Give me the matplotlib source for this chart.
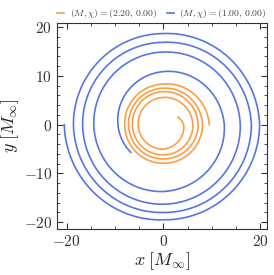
import numpy as np
import matplotlib
matplotlib.use("Agg")
import matplotlib.pyplot as plt
from matplotlib.path import Path
from matplotlib.projections.polar import PolarAxes
from matplotlib.ticker import MultipleLocator, FuncFormatter

plt.rcParams["mathtext.fontset"] = "cm"
plt.rcParams["font.family"] = "serif"
plt.rcParams["font.serif"] = ["DejaVu Serif"]

# orbit tracks: orbital phase (deg) and distance from origin
orange_label = r"$(M, \chi) = (2.20,\, 0.00)$"
orange_phase = [0, 90, 180, 270, 360, 450, 540, 630, 720, 810, 900, 990,
                1080, 1170, 1260, 1350, 1440, 1468]
orange_radius = [9.5, 8.35, 8.0, 7.9, 8.1, 7.5, 7.2, 7.0, 7.2, 6.8, 6.4, 6.2,
                 6.1, 5.6, 5.2, 5.0, 4.2, 3.4]

blue_label = r"$(M, \chi) = (1.00,\, 0.00)$"
blue_phase = [180, 270, 360, 450, 540, 630, 720, 810, 900, 990, 1080, 1170,
              1260, 1350, 1440, 1530, 1620, 1660]
blue_radius = [20.5, 19.5, 19.9, 18.7, 18.6, 18.0, 18.2, 16.9, 16.7, 16.3,
               15.9, 14.9, 14.4, 13.7, 12.6, 10.9, 9.4, 8.8]

orange = "#ff9d45"
blue = "#5576e3"


def fmt(v, pos):
    return r"$%d$" % v


fig = plt.figure(figsize=(2.74, 2.75), dpi=100)
ax = fig.add_axes([0.208, 0.167, 0.766, 0.750])

# let the polar transform turn (phase, radius) into the x-y track
polar = PolarAxes.PolarTransform(apply_theta_transforms=False)
for phase, radius, col, lab in [(orange_phase, orange_radius, orange, orange_label),
                                (blue_phase, blue_radius, blue, blue_label)]:
    p = Path(np.column_stack([np.deg2rad(phase), radius])).interpolated(40)
    ax.plot(p.vertices[:, 0], p.vertices[:, 1], color=col, lw=1.2,
            transform=polar + ax.transData, label=lab)

ax.set_xlim(-22.0, 21.4)
ax.set_ylim(-21.4, 20.9)

ax.xaxis.set_major_locator(MultipleLocator(20))
ax.xaxis.set_minor_locator(MultipleLocator(5))
ax.yaxis.set_major_locator(MultipleLocator(10))
ax.yaxis.set_minor_locator(MultipleLocator(2))
ax.xaxis.set_major_formatter(FuncFormatter(fmt))
ax.yaxis.set_major_formatter(FuncFormatter(fmt))
ax.tick_params(which="both", direction="in", top=True, right=True,
               labelsize=11, colors="#333333", labelcolor="#333333")
ax.tick_params(which="major", length=4, width=0.8)
ax.tick_params(which="minor", length=2, width=0.6)
for s in ax.spines.values():
    s.set_color("#333333")
    s.set_linewidth(0.8)

ax.set_xlabel(r"$x\;[M_\infty]$", fontsize=13, labelpad=1, color="#222222")
ax.set_ylabel(r"$y\;[M_\infty]$", fontsize=13, labelpad=2, color="#222222")

ax.legend(loc="lower center", bbox_to_anchor=(0.5, 0.99), ncol=2,
          frameon=False, fontsize=7, handlelength=0.7, handletextpad=0.6,
          columnspacing=1.0, borderaxespad=0.1, labelcolor="#444444")

fig.savefig("out.png", dpi=100)
